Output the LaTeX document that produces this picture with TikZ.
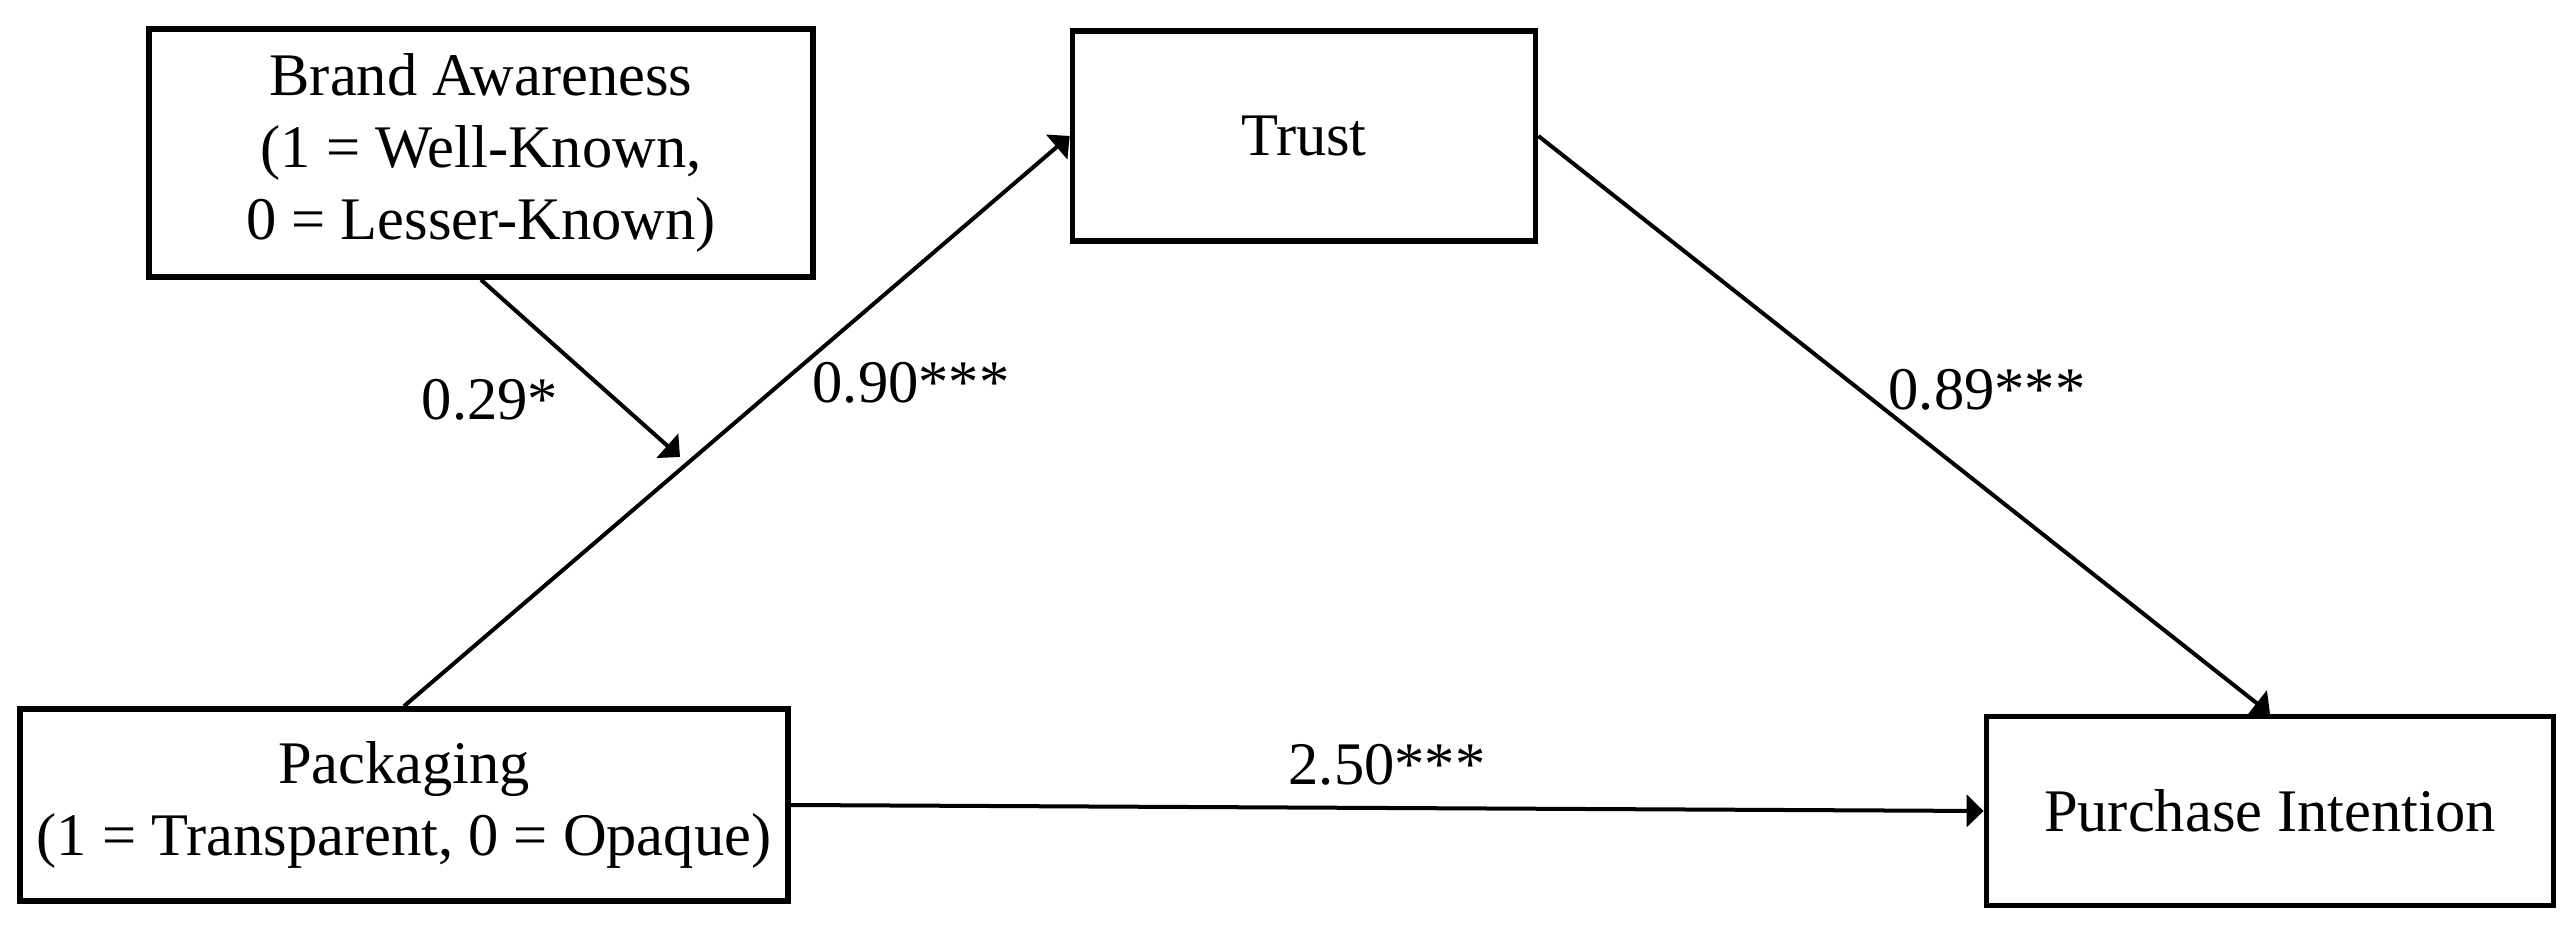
\documentclass[tikz,border=0pt]{standalone}
\usepackage{fontspec}
\setmainfont{Liberation Serif}
\usetikzlibrary{arrows.meta,calc}
\begin{document}
\begin{tikzpicture}[x=0.01cm,y=-0.01cm,
  box/.style={draw,line width=0.55mm,rectangle,inner sep=0pt,align=center,font=\fontsize{17.2}{20.4}\selectfont},
  conn/.style={line width=0.4mm,-{Triangle[length=1.7mm,width=3.2mm]}},
  lbl/.style={font=\fontsize{17.2}{20.4}\selectfont,anchor=base,inner sep=0pt}]
\useasboundingbox (0,0) rectangle (2573,925);
\node[box,minimum width=6.64cm,minimum height=2.48cm] (brand) at (481,153) {Brand Awareness\\(1 = Well-Known,\\0 = Lesser-Known)};
\node[box,minimum width=4.63cm,minimum height=2.10cm] (trust) at (1304,136) {Trust};
\node[box,minimum width=7.68cm,minimum height=1.92cm] (pack) at (404,805) {Packaging\\(1 = Transparent, 0 = Opaque)};
\node[box,minimum width=5.67cm,minimum height=1.89cm] (pi) at (2270,811) {Purchase Intention};
\coordinate (mtip) at (680,457);
\draw[conn] (pack.north) -- (trust.west);
\draw[conn] (trust.east) -- (pi.north);
\draw[conn] (pack.east) -- (pi.west);
\draw[conn] (brand.south) -- (mtip);
\node[lbl] (l1) at (490,420) {0.29*};
\node[lbl] (l2) at (911,403) {0.90***};
\node[lbl] (l3) at (1987,410) {0.89***};
\node[lbl] (l4) at (1387,784) {2.50***};
\end{tikzpicture}
\end{document}
